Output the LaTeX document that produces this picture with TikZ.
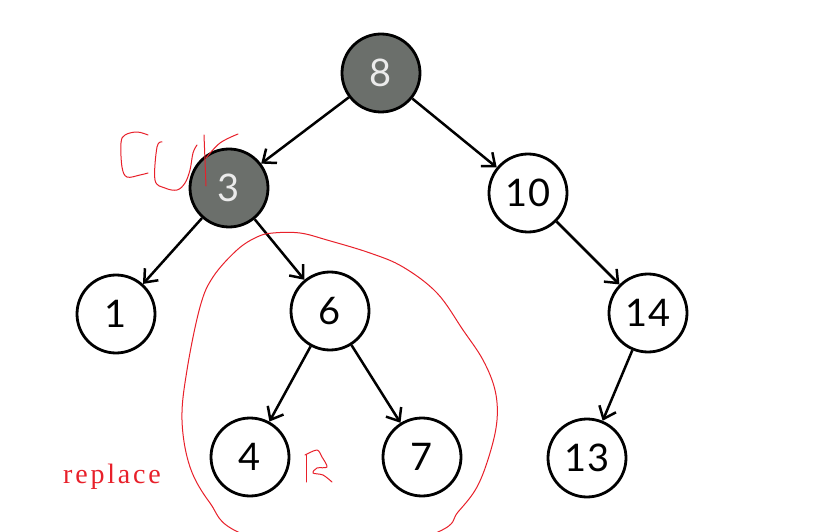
\documentclass[tikz,border=0pt]{standalone}
\usepackage{fontspec}
\setmainfont{Lato}
\newfontfamily\notefont[LetterSpace=10]{Liberation Serif}
\usetikzlibrary {arrows.meta, positioning}

\definecolor{darknode}{HTML}{6B6F6B}
\definecolor{penred}{HTML}{E8202A}

\begin{document}
\begin{tikzpicture}[
    x=1pt, y=-1pt,
    ->,
    >={Straight Barb[length=11pt,width=18pt]},
    line width=2.5pt,
    key/.style={circle, draw, line width=2.8pt, minimum size=78pt, inner sep=0pt,
                font=\fontsize{38}{38}\selectfont},
    visited/.style={key, fill=darknode, text=white!92!black},
    pen/.style={-, draw=penred, line width=1pt, line join=round, line cap=round},
]
    \useasboundingbox (0,0) rectangle (823,532);
    \fill[white] (0,0) rectangle (823,532);

    \node[visited] (n8)  at (381,73)  {8};
    \node[visited] (n3)  at (229,188) {3};
    \node[key]     (n10) at (528,193) {10};
    \node[key]     (n1)  at (116,314) {1};
    \node[key]     (n6)  at (330,311) {6};
    \node[key]     (n14) at (648,313) {14};
    \node[key]     (n4)  at (250,457) {4};
    \node[key]     (n7)  at (422,457) {7};
    \node[key]     (n13) at (587,458) {13};

    \path
        (n8)  edge (n3)
        (n8)  edge (n10)
        (n3)  edge (n1)
        (n3)  edge (n6)
        (n10) edge (n14)
        (n6)  edge (n4)
        (n6)  edge (n7)
        (n14) edge (n13)
    ;

    % handwritten marks
    \begin{scope}
        \clip (0,0) rectangle (823,532);
        \draw[pen] plot[smooth cycle, tension=0.6] coordinates {
            (273,233) (300,233) (327,240) (370,253) (403,267) (437,293)
            (463,330) (483,360) (495,390) (497,420) (490,453) (477,487)
            (458,512) (438,532) (340,565) (238,532) (210,503) (190,467)
            (182,420) (187,370) (200,307) (213,277) (237,250) (257,237)};
    \end{scope}
    \draw[pen] plot[smooth, tension=0.6] coordinates {
        (148,135) (137,132) (125,135) (121,143) (122,167) (127,177) (140,175) (148,173)};
    \draw[pen] plot[smooth, tension=0.6] coordinates {
        (162,142) (157,147) (155,180) (165,188) (177,190) (185,183) (190,170) (193,153) (197,145)};
    \draw[pen] (204,135) -- (206,186);
    \draw[pen] plot[smooth, tension=0.6] coordinates {(206,158) (220,143) (238,134)};
    \draw[pen] (306,455) -- (306,482);
    \draw[pen] plot[smooth, tension=0.5] coordinates {
        (305,455) (317,450) (322,457) (327,467) (317,468) (313,473) (323,475) (332,482)};

    \node[text=penred, font=\notefont\fontsize{28}{28}\selectfont, anchor=base, inner sep=0pt]
        (note) at (112,483) {replace};
\end{tikzpicture}
\end{document}
